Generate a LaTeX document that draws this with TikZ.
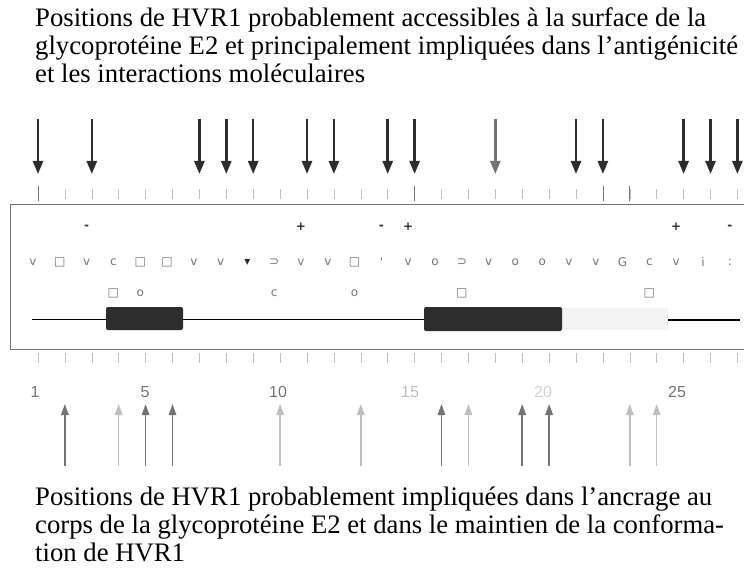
\documentclass[tikz,border=0pt]{standalone}
\usepackage{fontspec}
\setmainfont{Liberation Serif}
\newfontfamily\symfont{DejaVu Sans}
\newfontfamily\numfont{Liberation Sans}
\usepackage{tikz}
\definecolor{dk}{RGB}{45, 45, 45}
\definecolor{md}{RGB}{115, 115, 115}
\definecolor{lt}{RGB}{190, 190, 190}
\definecolor{fnt}{RGB}{243, 243, 243}
\usetikzlibrary{positioning}
\usetikzlibrary{arrows.meta}
\tikzset{
  caption/.style={anchor=base west, inner sep=0pt, font=\fontsize{26.7}{28}\selectfont},
  res/.style={inner sep=0pt, text=md, font=\symfont\fontsize{12}{12}\selectfont},
  charge/.style={inner sep=0pt, text=dk, font=\symfont\bfseries\fontsize{12}{12}\selectfont},
  posnum/.style={inner sep=0pt, font=\numfont\fontsize{16}{16}\selectfont},
  downarrow/.style={line width=2.5pt, -{Triangle[width=10pt, length=13pt]}},
  uparrow/.style={line width=1.5pt, -{Triangle[width=7.5pt, length=11pt]}},
}

\begin{document}
\begin{tikzpicture}
\useasboundingbox (0pt, 0pt) rectangle (744pt, -569pt);
% texte du haut
\node (top1) [caption] at (35pt, -27pt) {Positions de HVR1 probablement accessibles à la surface de la};
\node (top2) [caption] at (35pt, -55pt) {glycoprotéine E2 et principalement impliquées dans l'antigénicité};
\node (top3) [caption] at (35pt, -83pt) {et les interactions moléculaires};
% fleches du haut
\foreach \n/\c in {1/dk, 3/dk, 7/dk, 8/dk, 9/dk, 11/dk, 12/dk, 14/dk, 15/dk, 18/md, 21/dk, 22/dk, 25/dk, 26/dk, 27/dk} {
  \coordinate (u\n) at ({38pt+(\n-1)*26.9pt}, -119pt);
  \coordinate (v\n) at ({38pt+(\n-1)*26.9pt}, -174pt);
  \draw [downarrow, color=\c] (u\n) to (v\n);
}
% regles
\foreach \n in {1,...,27} {
  \draw [line width=0.6pt, color=lt] ({38pt+(\n-1)*26.9pt}, -189pt) -- ({38pt+(\n-1)*26.9pt}, -199pt);
  \draw [line width=0.6pt, color=lt] ({38pt+(\n-1)*26.9pt}, -353pt) -- ({38pt+(\n-1)*26.9pt}, -363pt);
}
\foreach \n in {1,15,22,23} {
  \draw [line width=0.8pt, color=md] ({38pt+(\n-1)*26.9pt}, -186pt) -- ({38pt+(\n-1)*26.9pt}, -201pt);
}
% cadre
\draw [line width=0.8pt, color=md] (748pt, -204pt) -- (10pt, -204pt) -- (10pt, -349pt) -- (748pt, -349pt);
% charges
\node (c3) [charge] at (86.6pt, -227pt) {-};
\node (c11) [charge] at (301.0pt, -227pt) {+};
\node (c14) [charge] at (381.4pt, -227pt) {-};
\node (c15) [charge] at (408.2pt, -227pt) {+};
\node (c25) [charge] at (676.2pt, -227pt) {+};
\node (c27) [charge] at (729.8pt, -227pt) {-};
% residus
\node (r1) [res] at (33.0pt, -262pt) {v};
\node (r2) [res] at (59.8pt, -262pt) {□};
\node (r3) [res] at (86.6pt, -262pt) {v};
\node (r4) [res] at (113.4pt, -262pt) {c};
\node (r5) [res] at (140.2pt, -262pt) {□};
\node (r6) [res] at (167.0pt, -262pt) {□};
\node (r7) [res] at (193.8pt, -262pt) {v};
\node (r8) [res] at (220.6pt, -262pt) {v};
\node (r9) [res, text=dk] at (247.4pt, -262pt) {▾};
\node (r10) [res] at (274.2pt, -262pt) {⊃};
\node (r11) [res] at (301.0pt, -262pt) {v};
\node (r12) [res] at (327.8pt, -262pt) {v};
\node (r13) [res] at (354.6pt, -262pt) {□};
\node (r14) [res] at (381.4pt, -262pt) {'};
\node (r15) [res] at (408.2pt, -262pt) {v};
\node (r16) [res] at (435.0pt, -262pt) {o};
\node (r17) [res] at (461.8pt, -262pt) {⊃};
\node (r18) [res] at (488.6pt, -262pt) {v};
\node (r19) [res] at (515.4pt, -262pt) {o};
\node (r20) [res] at (542.2pt, -262pt) {o};
\node (r21) [res] at (569.0pt, -262pt) {v};
\node (r22) [res] at (595.8pt, -262pt) {v};
\node (r23) [res] at (622.6pt, -262pt) {G};
\node (r24) [res] at (649.4pt, -262pt) {c};
\node (r25) [res] at (676.2pt, -262pt) {v};
\node (r26) [res] at (703.0pt, -262pt) {i};
\node (r27) [res] at (729.8pt, -262pt) {:};
% seconde ligne
\node (s4) [res] at (113.4pt, -293pt) {□};
\node (s5) [res] at (140.2pt, -293pt) {o};
\node (s10) [res] at (274.2pt, -293pt) {c};
\node (s13) [res] at (354.6pt, -293pt) {o};
\node (s17) [res] at (461.8pt, -293pt) {□};
\node (s24) [res] at (649.4pt, -293pt) {□};
% structure
\fill [color=fnt] (562pt, -308pt) rectangle (668pt, -330pt);
\draw [line width=1pt, color=black] (32pt, -319pt) -- (424pt, -319pt);
\draw [line width=1.8pt, color=black] (668pt, -320pt) -- (740pt, -320pt);
\fill [color=dk, rounded corners=2pt] (106pt, -307pt) rectangle (183pt, -330pt);
\fill [color=dk, rounded corners=2pt] (424pt, -307pt) rectangle (562pt, -331pt);
% numeros
\node (n1) [posnum, text=md] at (35pt, -392pt) {1};
\node (n5) [posnum, text=md] at (145pt, -392pt) {5};
\node (n10) [posnum, text=md] at (278pt, -392pt) {10};
\node (n15) [posnum, text=lt] at (410pt, -392pt) {15};
\node (n20) [posnum, text=lt!70] at (543pt, -392pt) {20};
\node (n25) [posnum, text=md] at (677pt, -392pt) {25};
% fleches du bas
\foreach \n/\c in {2/md, 4/lt, 5/md, 6/md, 10/lt, 13/lt, 16/md, 17/lt, 19/md, 20/md, 23/lt, 24/lt} {
  \coordinate (p\n) at ({38pt+(\n-1)*26.9pt}, -466pt);
  \coordinate (q\n) at ({38pt+(\n-1)*26.9pt}, -404pt);
  \draw [uparrow, color=\c] (p\n) to (q\n);
}
% texte du bas
\node (bot1) [caption] at (35pt, -505pt) {Positions de HVR1 probablement impliquées dans l'ancrage au};
\node (bot2) [caption] at (35pt, -533pt) {corps de la glycoprotéine E2 et dans le maintien de la conforma-};
\node (bot3) [caption] at (35pt, -561pt) {tion de HVR1};
\end{tikzpicture}
\end{document}
